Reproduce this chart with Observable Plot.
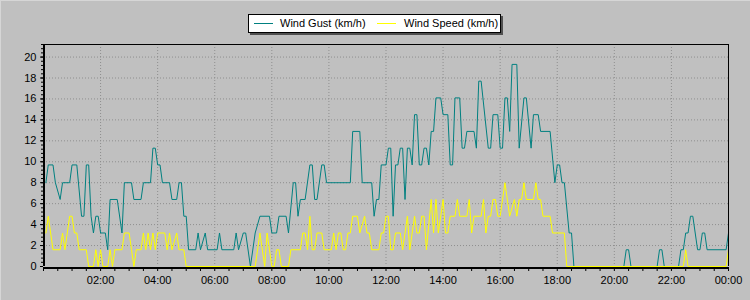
<!DOCTYPE html>
<html><head><meta charset="utf-8">
<script src="https://cdn.jsdelivr.net/npm/d3@7"></script>
<script src="https://cdn.jsdelivr.net/npm/@observablehq/plot@0.6"></script>
<style>
html,body{margin:0;padding:0;background:#c0c0c0;}
#wrap{position:relative;width:750px;height:300px;background:#c0c0c0;overflow:hidden;font-family:"Liberation Sans",Arial,sans-serif;box-shadow:inset 1px 1px 0 #d6d6d6;}
#legend{position:relative;height:43px;}
.box{position:absolute;left:248px;top:14px;width:253px;height:19px;box-sizing:border-box;border:1px solid #000;background:#fff;box-shadow:2px 2px 0 #505050;}
.sw{position:absolute;top:8px;height:1px;width:19px;}
.lt{position:absolute;top:3px;font-size:11px;line-height:11px;color:#000;white-space:nowrap;}
#chart svg{display:block;}
</style></head>
<body>
<div id="wrap">
  <div id="legend"><div class="box" id="box"></div></div>
  <div id="chart"></div>
</div>
<script>
// [minutes since midnight, km/h]
const gustSeries = [[5,8.0],[10,9.7],[20,9.7],[25,8.0],[35,6.4],[40,8.0],[55,8.0],[60,9.7],[70,9.7],[80,4.8],[85,4.8],[90,9.7],[95,9.7],[100,4.8],[105,3.2],[110,4.8],[115,4.8],[120,3.2],[130,3.2],[135,1.6],[140,6.4],[155,6.4],[165,3.2],[170,8.0],[185,8.0],[190,6.4],[205,6.4],[210,8.0],[225,8.0],[230,11.3],[235,11.3],[240,9.7],[245,9.7],[250,8.0],[265,8.0],[270,6.4],[280,6.4],[285,8.0],[290,8.0],[295,4.8],[300,4.8],[305,1.6],[320,1.6],[325,3.2],[330,1.6],[340,3.2],[345,1.6],[365,1.6],[370,3.2],[375,1.6],[400,1.6],[405,3.2],[410,1.6],[420,3.2],[425,3.2],[435,0],[445,3.2],[455,4.8],[475,4.8],[480,3.2],[490,3.2],[495,4.8],[510,4.8],[515,3.2],[525,8.0],[530,8.0],[535,4.8],[540,6.4],[550,6.4],[560,9.7],[565,9.7],[570,6.4],[575,6.4],[585,9.7],[590,9.7],[595,8.0],[645,8.0],[650,12.9],[665,12.9],[670,8.0],[690,8.0],[695,4.8],[700,6.4],[705,6.4],[710,9.7],[720,9.7],[725,11.3],[730,11.3],[735,4.8],[740,9.7],[745,9.7],[750,11.3],[755,11.3],[760,6.4],[765,11.3],[770,11.3],[775,9.7],[780,14.5],[785,14.5],[790,9.7],[795,9.7],[800,11.3],[805,11.3],[810,9.7],[815,12.9],[820,12.9],[825,16.1],[835,16.1],[840,14.5],[850,14.5],[855,9.7],[860,9.7],[865,16.1],[875,16.1],[880,11.3],[885,11.3],[890,12.9],[905,12.9],[910,11.3],[915,17.7],[920,17.7],[935,11.3],[940,11.3],[945,14.5],[955,14.5],[960,11.3],[965,11.3],[970,16.1],[975,16.1],[980,12.9],[985,19.3],[995,19.3],[1000,11.3],[1010,16.1],[1015,16.1],[1025,11.3],[1030,14.5],[1040,14.5],[1045,12.9],[1065,12.9],[1075,8.0],[1080,9.7],[1085,9.7],[1090,8.0],[1095,8.0],[1105,3.2],[1110,3.2],[1115,0],[1220,0],[1225,1.6],[1230,1.6],[1235,0],[1290,0],[1295,1.6],[1300,1.6],[1305,0],[1335,0],[1340,1.6],[1345,1.6],[1350,3.2],[1355,3.2],[1360,4.8],[1365,4.8],[1375,1.6],[1380,1.6],[1385,3.2],[1390,3.2],[1395,1.6],[1435,1.6],[1440,3.2]];

const speedSeries = [[5,3.2],[10,4.8],[15,3.2],[20,1.6],[35,1.6],[40,3.2],[45,1.6],[55,4.8],[60,4.8],[65,3.2],[70,3.2],[75,1.6],[90,1.6],[95,0],[105,0],[110,1.6],[115,0],[120,1.6],[125,0],[135,0],[140,1.6],[145,0],[150,1.6],[165,1.6],[170,3.2],[180,3.2],[185,1.6],[190,0],[195,1.6],[205,1.6],[210,3.2],[215,1.6],[220,3.2],[225,1.6],[230,3.2],[235,1.6],[240,3.2],[255,3.2],[260,1.6],[265,3.2],[270,1.6],[280,3.2],[285,1.6],[295,1.6],[300,0],[445,0],[455,3.2],[465,0],[470,3.2],[480,0],[485,0],[490,1.6],[495,1.6],[500,0],[515,0],[520,1.6],[540,1.6],[545,3.2],[550,3.2],[555,1.6],[560,4.8],[565,1.6],[570,1.6],[575,3.2],[585,3.2],[590,1.6],[605,1.6],[610,3.2],[615,1.6],[620,3.2],[625,3.2],[630,1.6],[635,1.6],[640,3.2],[645,3.2],[650,4.8],[660,4.8],[665,3.2],[675,4.8],[680,3.2],[685,3.2],[690,1.6],[705,1.6],[710,3.2],[715,3.2],[720,4.8],[725,4.8],[730,1.6],[735,1.6],[740,3.2],[750,3.2],[755,1.6],[765,4.8],[770,1.6],[780,4.8],[785,3.2],[790,3.2],[795,4.8],[800,4.8],[805,1.6],[815,6.4],[820,3.2],[825,6.4],[830,3.2],[840,6.4],[845,3.2],[850,3.2],[855,4.8],[865,4.8],[870,6.4],[875,4.8],[890,4.8],[895,6.4],[900,3.2],[905,4.8],[920,4.8],[925,6.4],[930,3.2],[935,4.8],[940,4.8],[945,6.4],[950,6.4],[955,4.8],[960,4.8],[970,8.0],[980,4.8],[990,6.4],[995,4.8],[1000,6.4],[1005,6.4],[1010,8.0],[1015,6.4],[1030,6.4],[1035,8.0],[1040,6.4],[1045,6.4],[1050,4.8],[1065,4.8],[1070,3.2],[1095,3.2],[1100,0],[1345,0],[1350,1.6],[1355,0],[1435,0],[1440,1.6]];

const seriesNames = ["Wind Gust (km/h)", "Wind Speed (km/h)"];
const seriesColors = ["#008080", "#ffff00"];
const xTickMinutes = [120, 240, 360, 480, 600, 720, 840, 960, 1080, 1200, 1320, 1440];
const xTickLabels = ["02:00", "04:00", "06:00", "08:00", "10:00", "12:00", "14:00", "16:00", "18:00", "20:00", "22:00", "00:00"];
const xMinorMinutes = d3.range(0, 1441, 30);
const yTicks = [0, 2, 4, 6, 8, 10, 12, 14, 16, 18, 20];
const yMinor = d3.range(0, 54).map(i => +(i * 0.4).toFixed(1));
const yMax = 21.2;

// legend
const box = document.getElementById("box");
const legendPos = [[5, 31], [128, 155]];
seriesNames.forEach((name, i) => {
  const sw = document.createElement("div");
  sw.className = "sw"; sw.style.left = legendPos[i][0] + "px"; sw.style.background = seriesColors[i];
  box.appendChild(sw);
  const t = document.createElement("div");
  t.className = "lt"; t.style.left = legendPos[i][1] + "px"; t.textContent = name;
  box.appendChild(t);
});

const gust = gustSeries.map(([m, v]) => ({m, v}));
const speed = speedSeries.map(([m, v]) => ({m, v}));
const gridStyle = {stroke: "#8e8e8e", strokeOpacity: 1, strokeDasharray: "1,2"};

const chart = Plot.plot({
  width: 750, height: 257,
  marginLeft: 43, marginRight: 22, marginTop: 1, marginBottom: 34,
  style: {background: "transparent", fontFamily: "'Liberation Sans', Arial, sans-serif", fontSize: "11px", color: "#000", overflow: "visible"},
  x: {domain: [0, 1440]},
  y: {domain: [0, yMax]},
  marks: [
    Plot.gridY(yTicks.slice(1), gridStyle),
    Plot.gridX(xTickMinutes.slice(0, -1), gridStyle),
    Plot.axisY(yMinor, {tickSize: 2, tickFormat: () => "", label: null}),
    Plot.axisY(yTicks, {tickSize: 3, tickPadding: 4, label: null}),
    Plot.axisX(xMinorMinutes, {tickSize: 4, dy: 1, tickFormat: () => "", label: null}),
    Plot.axisX(xTickMinutes, {tickSize: 0, tickPadding: 10, tickFormat: d => xTickLabels[xTickMinutes.indexOf(d)], label: null}),
    Plot.line(gust, {x: "m", y: "v", stroke: seriesColors[0], strokeWidth: 1}),
    Plot.line(speed, {x: "m", y: "v", stroke: seriesColors[1], strokeWidth: 1}),
    Plot.ruleY([yMax], {stroke: "#000"}),
    Plot.ruleX([1440], {stroke: "#000"}),
    Plot.ruleX([0], {stroke: "#000", strokeWidth: 2, dx: 0.5}),
    Plot.ruleY([0], {stroke: "#000", strokeWidth: 2, dy: 1.5})
  ]
});
document.getElementById("chart").appendChild(chart);
</script>
</body></html>
